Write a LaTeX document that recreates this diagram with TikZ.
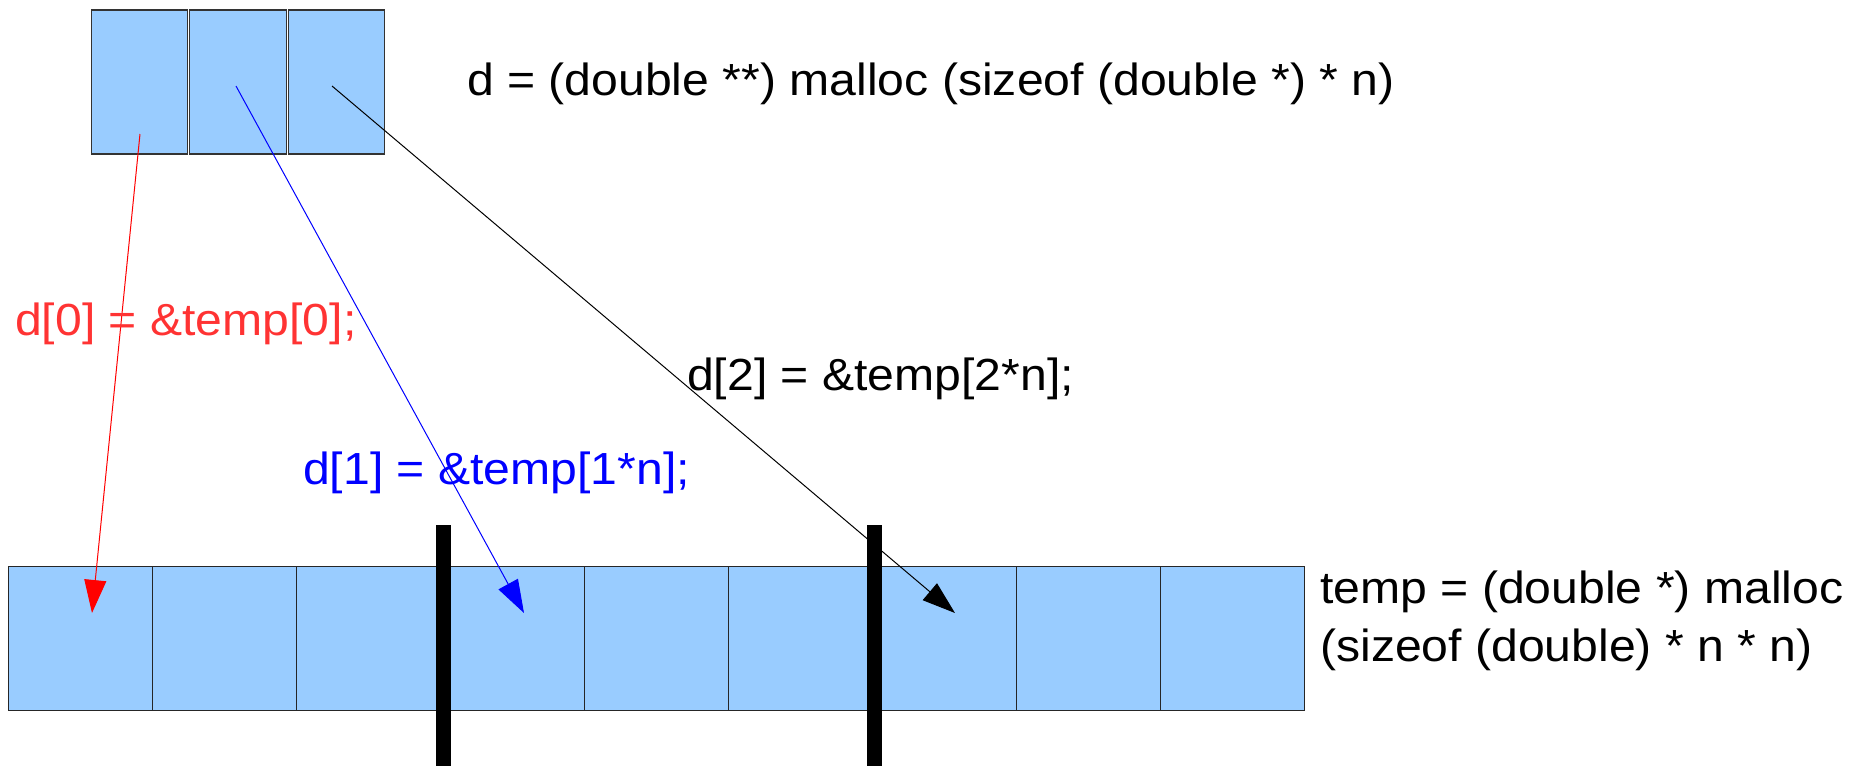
\documentclass[tikz,border=0pt]{standalone}
\usepackage{fontspec}
\setmainfont{Liberation Sans}
\newfontfamily\labfont[FakeStretch=1.07]{Liberation Sans}
\usetikzlibrary{arrows.meta}
\definecolor{cellblue}{HTML}{99CCFF}
\definecolor{labred}{HTML}{FF3333}
\begin{document}
\begin{tikzpicture}[x=1pt,y=-1pt,
  ptrbox/.style={draw=black!80, line width=1.3pt, fill=cellblue, minimum width=96.5pt, minimum height=144pt, inner sep=0pt, outer sep=0pt},
  cellbox/.style={draw=black!85, line width=1pt, fill=cellblue, minimum width=144pt, minimum height=144pt, inner sep=0pt, outer sep=0pt},
  sepbar/.style={fill=black, draw=none, minimum width=15pt, minimum height=241pt, inner sep=0pt, outer sep=0pt},
  ptrarrow/.style={line width=1pt, -{Triangle[length=33pt,width=22pt]}},
  codelab/.style={font=\labfont\fontsize{45}{54}\selectfont, inner sep=0pt, anchor=base west}]
\useasboundingbox (0,0) rectangle (1860,766);
% pointer array
\node[ptrbox] (p0) at (139.5,82) {};
\node[ptrbox] (p1) at (238,82) {};
\node[ptrbox] (p2) at (336.5,82) {};
% data array
\foreach \i in {0,...,8} {
  \node[cellbox] (c\i) at ({80.5+144*\i},638) {};
}
% arrow ends
\coordinate (s0) at (140,134);
\coordinate (s1) at (236,86);
\coordinate (s2) at (332,86);
\coordinate (t0) at (92,613);
\coordinate (t1) at (524,613);
\coordinate (t2) at (955,613);
\draw[ptrarrow, red] (s0) -- (t0);
\draw[ptrarrow, blue] (s1) -- (t1);
\draw[ptrarrow, black] (s2) -- (t2);
% row separators
\node[sepbar] (b1) at (443.5,645.5) {};
\node[sepbar] (b2) at (874,645.5) {};
% labels
\node[codelab] (top) at (467,95) {d = (double **) malloc (sizeof (double *) * n)};
\node[codelab, text=labred] (l0) at (15,335) {d[0] = \&temp[0];};
\node[codelab, text=blue] (l1) at (303,484) {d[1] = \&temp[1*n];};
\node[codelab] (l2) at (687,390) {d[2] = \&temp[2*n];};
\node[codelab] (tm1) at (1320,603) {temp = (double *) malloc};
\node[codelab] (tm2) at (1320,661) {(sizeof (double) * n * n)};
\end{tikzpicture}
\end{document}
